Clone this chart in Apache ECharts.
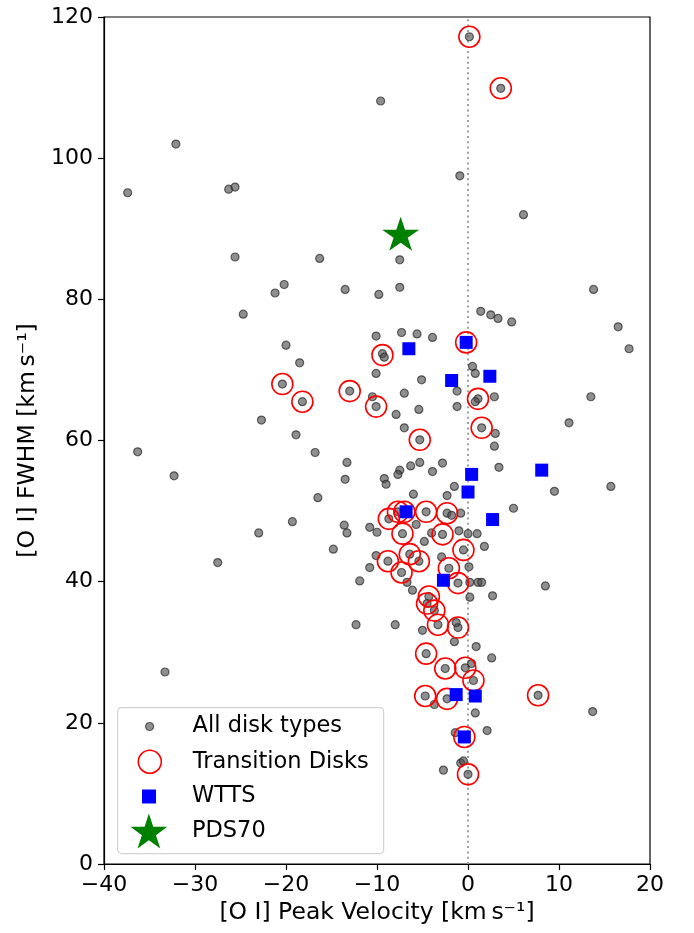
<!DOCTYPE html>
<html>
<head>
<meta charset="utf-8">
<script src="https://cdn.jsdelivr.net/npm/echarts@6/dist/echarts.min.js"></script>
<style>
html,body{margin:0;padding:0;background:#fff;}
#chart{width:694px;height:933px;}
</style>
</head>
<body>
<div id="chart"></div>
<script>
// ---- data ----
const allDisks = [
[0.15,117.2],[3.6,109.9],[-9.6,108.1],[-32.1,102.0],[-0.9,97.5],[-37.4,95.1],[-26.3,95.6],[-25.6,95.9],[6.1,92.0],[-25.6,86.0],[-16.3,85.8],[-7.5,85.6],[-20.2,82.1],[-21.2,80.9],[-13.5,81.4],[-9.8,80.7],[-7.5,81.7],[13.8,81.4],[-24.7,77.9],[1.4,78.3],[2.5,77.8],[3.3,77.3],[4.8,76.8],[16.5,76.1],[17.7,73.0],[-20.0,73.5],[-18.5,71.0],[-20.4,68.0],[-18.2,65.5],[-13.0,67.0],[-10.1,74.8],[-7.3,75.3],[-5.6,75.1],[-3.9,74.6],[-9.4,72.3],[-9.2,71.8],[-10.1,69.5],[-5.1,68.6],[0.5,70.5],[0.8,69.5],[-1.2,67.0],[-7.0,66.7],[1.1,65.9],[0.8,65.5],[2.9,66.2],[13.5,66.2],[-10.5,66.2],[-10.1,64.8],[-5.4,64.4],[-1.2,64.8],[-7.9,63.7],[-7.0,61.8],[1.5,61.8],[3.0,61.0],[2.9,59.2],[11.1,62.5],[-5.3,60.1],[-22.7,62.9],[-18.9,60.8],[-36.3,58.4],[-16.8,58.3],[-13.3,56.9],[-13.5,54.5],[-32.3,55.0],[-16.5,51.9],[-5.3,56.9],[-6.3,56.4],[-2.8,56.8],[-7.5,55.8],[-7.7,55.2],[-3.9,55.6],[-9.2,54.6],[-9.0,53.8],[3.4,56.2],[15.7,53.5],[9.5,52.8],[-1.5,53.5],[-6.0,52.4],[-2.3,52.2],[5.0,50.4],[-19.3,48.5],[-23.0,46.9],[-13.6,48.0],[-13.3,46.9],[-10.8,47.7],[-10.0,47.0],[-14.8,44.6],[-10.1,43.7],[-10.8,42.0],[-27.5,42.7],[-11.9,40.1],[-12.3,33.9],[-33.3,27.2],
[-8.7,48.9],[-7.7,49.9],[-7.0,49.9],[-4.6,49.9],[-2.3,49.7],[-7.2,46.8],[-2.8,46.7],[-0.5,44.5],[-6.4,43.9],[-5.4,42.9],[-8.8,42.9],[-7.3,41.3],[-2.1,41.9],[-1.1,39.8],[-4.3,37.9],[-4.5,36.9],[-3.7,35.9],[-3.3,33.9],[-1.1,33.5],[-4.6,29.8],[-2.5,27.7],[-0.3,27.8],[0.6,26.0],[-4.7,23.8],[-2.3,23.4],[7.7,23.9],[-0.4,18.0],[0.0,12.7],
[-1.8,49.4],[-0.8,49.7],[-5.7,48.1],[-4.0,46.9],[-4.8,45.7],[-1.0,47.2],[0.0,46.8],[1.0,46.8],[1.8,45.0],[-2.9,43.5],[0.1,42.1],[-6.1,38.8],[-6.7,39.9],[0.2,39.9],[1.1,39.9],[1.5,39.9],[0.2,37.8],[2.7,38.0],[8.5,39.4],[-8.0,33.9],[-1.3,34.2],[-5.0,33.1],[-1.5,31.5],[0.9,30.8],[2.6,29.2],[0.4,28.4],[-3.7,22.6],[0.8,21.4],[13.7,21.6],[2.1,18.9],[-1.4,18.6],[-0.8,14.3],[-0.5,14.6],[-2.7,13.3]
];
const transitionDisks = [
[0.15,117.2],[3.6,109.9],[-9.4,72.1],[-0.2,73.9],[-20.4,68.0],[-18.2,65.5],[-13.0,67.0],[-10.1,64.8],[1.1,65.9],[1.5,61.8],[-5.3,60.1],
[-8.7,48.9],[-7.7,49.9],[-7.0,49.9],[-4.6,49.9],[-2.3,49.7],[-7.2,46.8],[-2.8,46.7],[-0.5,44.5],[-6.4,43.9],[-5.4,42.9],[-8.8,42.9],[-7.3,41.3],[-2.1,41.9],[-1.1,39.8],[-4.3,37.9],[-4.5,36.9],[-3.7,35.9],[-3.3,33.9],[-1.1,33.5],[-4.6,29.8],[-2.5,27.7],[-0.3,27.8],[0.6,26.0],[-4.7,23.8],[-2.3,23.4],[7.7,23.9],[-0.4,18.0],[0.0,12.7]
];
const wtts = [
[-6.5,73.0],[-0.2,73.9],[-1.8,68.5],[2.4,69.1],[0.4,55.2],[8.1,55.8],[0.0,52.7],[2.7,48.8],[-6.8,49.9],[-2.7,40.2],[-1.3,24.0],[0.8,23.8],[-0.4,18.0]
];
const pds70 = [[-7.4,89.0]];
const zeroLine = [[0,0],[0,120]];
const seriesNames = ['All disk types','Transition Disks','WTTS','PDS70'];

const FONT = 'DejaVu Sans';
const STAR = 'path://M100,0 L122.45,69.1 L195.1,69.1 L136.3,111.8 L158.8,180.9 L100,138.2 L41.2,180.9 L63.7,111.8 L4.9,69.1 L77.55,69.1 Z';
const greyStyle = {color:'rgba(75,75,75,0.62)', borderColor:'rgba(30,30,30,0.65)', borderWidth:1.2, opacity:1};
const tdStyle = {color:'rgba(0,0,0,0)', borderColor:'#ff0000', borderWidth:1.6, opacity:1};
const wttsStyle = {color:'#0000ff', opacity:1};
const starStyle = {color:'#008000', opacity:1};

const minus = v => v < 0 ? '\u2212' + Math.abs(v) : String(v);

const LEG_FS = 22.5, LEG_LH = 24;
function legendItem(name, icon, w, h, cy, style) {
  const cx = 149;
  const boxH = Math.max(h, LEG_LH);
  return {
    data:[{name:name, icon:icon, itemStyle:style}],
    left: cx - w/2, top: cy - boxH/2,
    itemWidth: w, itemHeight: h, padding: 0,
    selectedMode: false, z: 6,
    textStyle: {fontFamily: FONT, fontSize: LEG_FS, lineHeight: LEG_LH, color:'#000', padding:[0,0,0, 192 - (cx + w/2) - 5]}
  };
}

const chart = echarts.init(document.getElementById('chart'), null, {renderer:'canvas'});
chart.setOption({
  animation:false,
  backgroundColor:'#fff',
  grid:{left:104, right:44, top:17, bottom:69, show:true, borderColor:'#000', borderWidth:1.2, backgroundColor:'transparent'},
  xAxis:{
    type:'value', min:-40, max:20, interval:10,
    name:'[O I] Peak Velocity [km\u2009s\u207B\u00B9]', nameLocation:'middle', nameGap:37,
    nameTextStyle:{fontFamily:FONT, fontSize:23.5, color:'#000'},
    axisLine:{show:true, onZero:false, lineStyle:{color:'#000', width:1.2}},
    axisTick:{show:true, length:6, lineStyle:{color:'#000', width:1.2}},
    axisLabel:{fontFamily:FONT, fontSize:22, color:'#000', margin:10, formatter:minus},
    splitLine:{show:false}
  },
  yAxis:{
    type:'value', min:0, max:120, interval:20,
    name:'[O I] FWHM [km\u2009s\u207B\u00B9]', nameLocation:'middle', nameGap:63,
    nameTextStyle:{fontFamily:FONT, fontSize:23.5, color:'#000'},
    axisLine:{show:true, onZero:false, lineStyle:{color:'#000', width:1.2}},
    axisTick:{show:true, length:6, lineStyle:{color:'#000', width:1.2}},
    axisLabel:{fontFamily:FONT, fontSize:22, color:'#000', margin:11},
    splitLine:{show:false}
  },
  legend:[
    legendItem(seriesNames[0], 'circle', 8, 8, 726.5, greyStyle),
    legendItem(seriesNames[1], 'circle', 23, 23, 761.5, tdStyle),
    legendItem(seriesNames[2], 'rect', 14, 14, 796.5, wttsStyle),
    legendItem(seriesNames[3], STAR, 37, 35, 831, starStyle)
  ],
  graphic:[{
    type:'rect', z:5, left:117, top:707,
    shape:{width:266, height:146, r:4},
    style:{fill:'rgba(255,255,255,0.8)', stroke:'#d3d3d3', lineWidth:1.2}
  }],
  series:[
    {type:'line', data:zeroLine, symbol:'none', silent:true, z:1,
     lineStyle:{color:'#a0a0a0', width:2, type:[2,3.3]}},
    {name:seriesNames[0], type:'scatter', data:allDisks, symbol:'circle', symbolSize:8, itemStyle:greyStyle, z:2},
    {name:seriesNames[1], type:'scatter', data:transitionDisks, symbol:'circle', symbolSize:21, itemStyle:tdStyle, z:3},
    {name:seriesNames[2], type:'scatter', data:wtts, symbol:'rect', symbolSize:13, itemStyle:wttsStyle, z:3},
    {name:seriesNames[3], type:'scatter', data:pds70, symbol:STAR, symbolSize:[37,34], symbolOffset:[0,-2], itemStyle:starStyle, z:4}
  ]
});
</script>
</body>
</html>
